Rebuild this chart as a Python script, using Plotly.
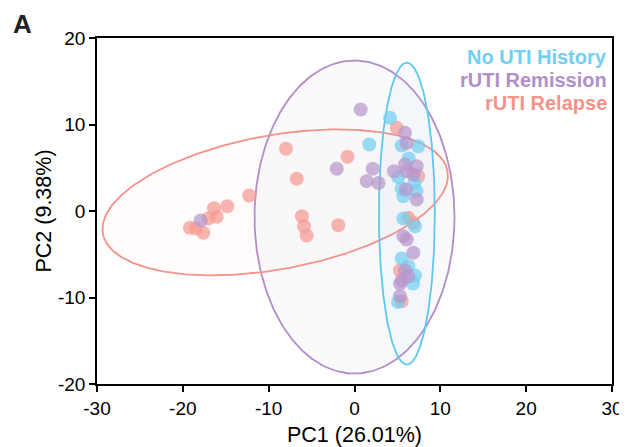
import numpy as np
import plotly.graph_objects as go

# ---------------- data ----------------
groups = ["No UTI History", "rUTI Remission", "rUTI Relapse"]

noUTI_x = [4.14, 1.72, 5.50, 7.43, 6.31, 5.10, 7.22, 7.00, 5.50, 5.69, 5.69, 7.05, 5.50, 6.27, 7.05, 6.82, 5.07]
noUTI_y = [10.77, 7.69, 7.57, 7.49, 6.07, 3.93, 2.31, 3.30, 2.60, 1.71, -0.87, -1.76, -5.49, -6.38, -7.46, -8.38, -10.52]

remis_x = [-17.92, -2.07, 0.72, 2.12, 1.42, 2.80, 5.88, 6.06, 4.60, 5.88, 7.25, 6.08, 6.85, 6.00, 7.25,
           5.69, 6.08, 6.85, 5.88, 6.27, 5.30, 5.50, 5.30]
remis_y = [-1.10, 4.88, 11.73, 4.88, 3.45, 3.24, 9.04, 7.86, 4.60, 5.38, 5.18, 4.60, 4.22, 2.49, 1.33,
           -2.91, -3.29, -4.83, -6.88, -7.54, -8.42, -8.03, -9.85]

relapse_x = [-7.98, -0.82, -6.73, -12.26, -14.82, -16.37, -16.05, -17.03, -19.17, -18.47, -17.62,
             -6.12, -5.88, -5.57, -1.89, 4.92, 7.43, 6.27, 6.85, 5.30, 5.50]
relapse_y = [7.19, 6.27, 3.72, 1.79, 0.55, 0.32, -0.67, -0.87, -1.94, -2.02, -2.52,
             -0.60, -1.76, -2.83, -1.64, 9.62, 4.02, -0.79, -1.36, -6.88, -10.43]

# confidence ellipses: centre x, centre y, semi-axis a, semi-axis b, angle (deg)
ell_cx = [6.1, 0.0, -9.24]
ell_cy = [-0.3, -0.7, 1.0]
ell_a = [3.26, 11.65, 20.4]
ell_b = [17.45, 18.1, 7.75]
ell_ang = [0.0, 0.0, 10.2]

x_ticks = [-30, -20, -10, 0, 10, 20, 30]
x_ticklabels = ["-30", "-20", "-10", "0", "10", "20", "30"]
y_ticks = [-20, -10, 0, 10, 20]
y_ticklabels = ["-20", "-10", "0", "10", "20"]

# ---------------- styles ----------------
pt_colors = ["#72CFF0", "#B796CB", "#F59A92"]
line_colors = ["#5EC8EE", "#B28DC6", "#F4918A"]
fill_colors = ["rgba(150,195,230,0.07)", "rgba(185,180,220,0.07)", "rgba(245,160,150,0.035)"]
text_colors = ["#6FD0F2", "#B28FC6", "#F59389"]
FONT = "Liberation Sans, Arial, sans-serif"

fig = go.Figure()

# ellipses (drawn from parameters; purple first so others overlay)
t = np.linspace(0, 2 * np.pi, 361)
for i in [1, 2, 0]:
    th = np.deg2rad(ell_ang[i])
    ex = ell_cx[i] + ell_a[i] * np.cos(th) * np.cos(t) - ell_b[i] * np.sin(th) * np.sin(t)
    ey = ell_cy[i] + ell_a[i] * np.sin(th) * np.cos(t) + ell_b[i] * np.cos(th) * np.sin(t)
    fig.add_trace(go.Scatter(x=ex, y=ey, mode="lines", fill="toself",
                             fillcolor=fill_colors[i],
                             line=dict(color=line_colors[i], width=1.8),
                             hoverinfo="skip", showlegend=False))

series = [(noUTI_x, noUTI_y), (remis_x, remis_y), (relapse_x, relapse_y)]
for i in [2, 0, 1]:
    sx, sy = series[i]
    fig.add_trace(go.Scatter(x=sx, y=sy, mode="markers", name=groups[i],
                             marker=dict(size=14, color=pt_colors[i], opacity=0.72,
                                         line=dict(width=0)),
                             showlegend=False))

# legend as coloured text
for i, g in enumerate(groups):
    fig.add_annotation(xref="paper", yref="paper", x=0.994, y=0.983 - i * 0.0665,
                       xanchor="right", yanchor="top", text="<b>%s</b>" % g,
                       showarrow=False, font=dict(family=FONT, size=20, color=text_colors[i]))

fig.add_annotation(xref="paper", yref="paper", x=-0.167, y=1.09, xanchor="left", yanchor="top",
                   text="<b>A</b>", showarrow=False,
                   font=dict(family=FONT, size=26, color="#222222"))

axis_common = dict(showgrid=False, zeroline=False, showline=True, linecolor="black",
                   linewidth=1.5, mirror=True, ticks="outside", ticklen=6, tickwidth=1.5,
                   tickcolor="black", tickfont=dict(family=FONT, size=19, color="black"))

fig.update_xaxes(range=[-30, 30], tickvals=x_ticks, ticktext=x_ticklabels,
                 title=dict(text="PC1 (26.01%)", standoff=9,
                            font=dict(family=FONT, size=21.5, color="black")),
                 **axis_common)
fig.update_yaxes(range=[-20, 20], tickvals=y_ticks, ticktext=y_ticklabels,
                 title=dict(text="PC2 (9.38%)", standoff=0,
                            font=dict(family=FONT, size=21.5, color="black")),
                 **axis_common)

# page body has an 8px default margin: shrink figure so the plot area lands
# at x 97-612, y 38-384 in the window
fig.update_layout(width=619, height=439,
                  margin=dict(l=89, r=15, t=30, b=63, autoexpand=False),
                  paper_bgcolor="white", plot_bgcolor="white",
                  font=dict(family=FONT))

fig.write_html("out.html")
